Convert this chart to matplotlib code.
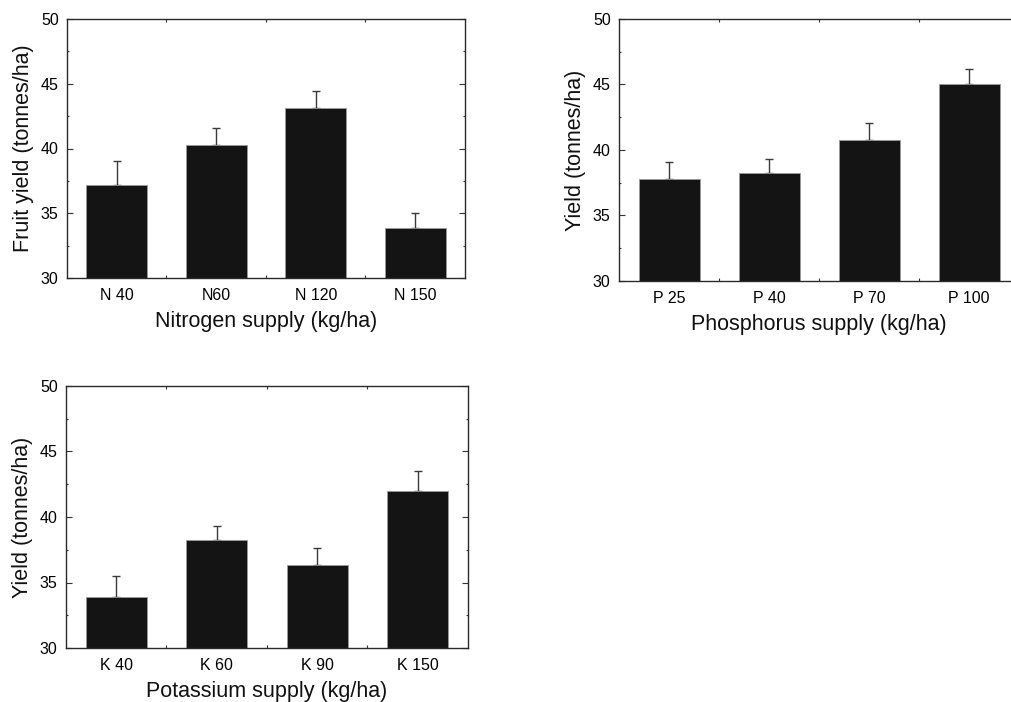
import matplotlib
matplotlib.use("Agg")
import matplotlib.pyplot as plt
from matplotlib.ticker import FixedLocator, MultipleLocator

plt.rcParams["font.family"] = ["Liberation Sans", "DejaVu Sans"]

# Yield response to each nutrient (means and upper error)
n_labels = ["N 40", "N60", "N 120", "N 150"]
n_yield = [37.2, 40.3, 43.1, 33.85]
n_err = [1.8, 1.3, 1.35, 1.2]

p_labels = ["P 25", "P 40", "P 70", "P 100"]
p_yield = [37.8, 38.25, 40.75, 45.0]
p_err = [1.3, 1.08, 1.33, 1.17]

k_labels = ["K 40", "K 60", "K 90", "K 150"]
k_yield = [33.93, 38.23, 36.3, 41.97]
k_err = [1.6, 1.12, 1.3, 1.52]

W, H = 1012, 702
fig = plt.figure(figsize=(W / 100, H / 100), dpi=100)


def frac(left, top, right, bottom):
    return [left / W, 1 - bottom / H, (right - left) / W, (bottom - top) / H]


def panel(rect, labels, values, errs, xlabel, ylabel):
    ax = fig.add_axes(rect)
    x = list(range(1, len(labels) + 1))
    ax.bar(x, values, width=0.61, color="#141414", edgecolor="#9a9a9a",
           linewidth=0.6, zorder=2)
    ax.errorbar(x, values, yerr=[[0] * len(errs), errs], fmt="none",
                ecolor="#3a3a3a", elinewidth=1.0, capsize=2.6,
                capthick=1.0, zorder=1)
    ax.set_xlim(0.5, len(labels) + 0.5)
    ax.set_ylim(30, 50)
    ax.set_xticks(x)
    ax.set_xticklabels(labels)
    ax.xaxis.set_minor_locator(FixedLocator([1.5, 2.5, 3.5]))
    ax.yaxis.set_major_locator(MultipleLocator(5))
    ax.yaxis.set_minor_locator(MultipleLocator(2.5))
    ax.tick_params(axis="x", which="major", length=0, pad=7, labelsize=11.5)
    ax.tick_params(axis="x", which="minor", direction="in", length=2.5,
                   width=0.8, top=True, bottom=True, color="#333333")
    ax.tick_params(axis="y", which="major", direction="in", length=4,
                   width=0.8, labelsize=11.5, pad=6, color="#333333")
    ax.tick_params(axis="y", which="minor", direction="in", length=1.5,
                   width=0.8, color="#333333", right=True)
    ax.tick_params(axis="y", which="major", right=True)
    for side in ("left", "right", "top", "bottom"):
        ax.spines[side].set_linewidth(1.0)
        ax.spines[side].set_color("#2a2a2a")
    ax.set_xlabel(xlabel, fontsize=15.5, labelpad=6, color="#111111")
    ax.set_ylabel(ylabel, fontsize=15.5, labelpad=5, color="#111111")
    return ax


panel(frac(67, 19, 465, 278), n_labels, n_yield, n_err,
      "Nitrogen supply (kg/ha)", "Fruit yield (tonnes/ha)")
panel(frac(619, 19, 1019, 281), p_labels, p_yield, p_err,
      "Phosphorus supply (kg/ha)", "Yield (tonnes/ha)")
panel(frac(66, 386, 468, 648), k_labels, k_yield, k_err,
      "Potassium supply (kg/ha)", "Yield (tonnes/ha)")

fig.savefig("out.png", dpi=100)
